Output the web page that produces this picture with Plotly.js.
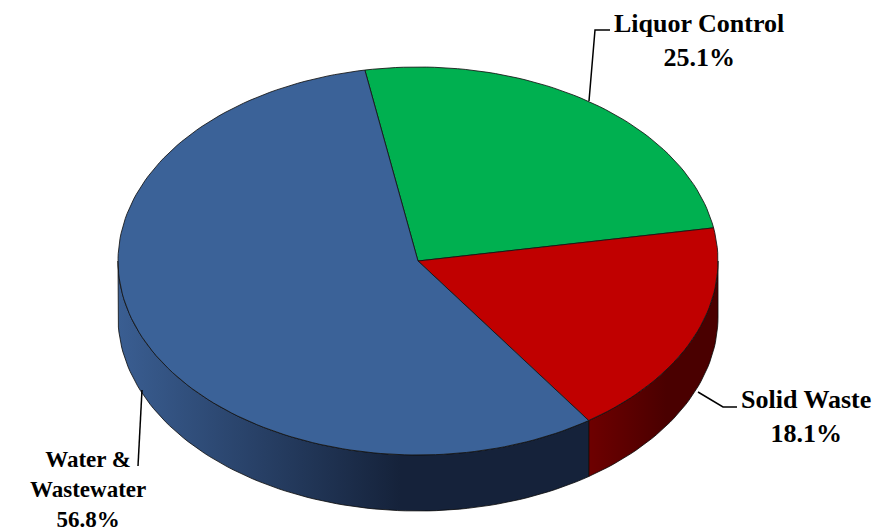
<!DOCTYPE html>
<html>
<head>
<meta charset="utf-8">
<script src="https://cdn.plot.ly/plotly-3.0.1.min.js"></script>
<style>html,body{margin:0;padding:0;background:#fff;}#chart{width:881px;height:532px;}</style>
</head>
<body>
<div id="chart"></div>
<script>
// ---- data ----
const labels = ['Liquor Control', 'Solid Waste', 'Water & Wastewater'];
const values = [25.1, 18.1, 56.8];
const labelText = ['Liquor Control<br>25.1%', 'Solid Waste<br>18.1%', 'Water &<br>Wastewater<br>56.8%'];

// ---- style / geometry ----
const topColors = ['#00b050', '#c00000', '#3b6298'];
const sideColors = [['#00803a', '#005a28'], ['#6e0000', '#4a0000'], ['#3a5e92', '#15223a']];
const W = 881, H = 532;
const cx = 418, cy = 261, rx = 300, ry = 194, depth = 56;
const startAngle = 100.2; // degrees, slices run clockwise

const total = values.reduce((a, b) => a + b, 0);
const rad = d => d * Math.PI / 180;
function px(t) { return cx + rx * Math.cos(rad(t)); }
function py(t, off) { return cy - ry * Math.sin(rad(t)) + (off || 0); }
function arc(a1, a2, off) {
  const n = Math.max(2, Math.ceil(Math.abs(a2 - a1) / 1.5));
  const xs = [], ys = [];
  for (let i = 0; i <= n; i++) {
    const t = a1 + (a2 - a1) * i / n;
    xs.push(px(t)); ys.push(py(t, off));
  }
  return [xs, ys];
}

const sideTraces = [], topTraces = [];
let a = startAngle;
values.forEach((v, i) => {
  const sweep = v / total * 360;
  const a1 = a, a2 = a - sweep; // clockwise
  const [ax, ay] = arc(a1, a2, 0);
  topTraces.push({
    type: 'scatter', mode: 'lines', fill: 'toself',
    x: [cx].concat(ax, [cx]), y: [cy].concat(ay, [cy]),
    fillcolor: topColors[i], line: {color: 'rgba(20,20,20,0.85)', width: 1},
    hoverinfo: 'skip', name: labels[i]
  });
  for (let k = -1; k <= 1; k++) {
    const lo = Math.max(a2, -180 + 360 * k), hi = Math.min(a1, 0 + 360 * k);
    if (hi - lo > 0.01) {
      const [tx, ty] = arc(hi, lo, 0);
      const [bx, by] = arc(lo, hi, depth);
      sideTraces.push({
        type: 'scatter', mode: 'lines', fill: 'toself',
        x: tx.concat(bx, [tx[0]]), y: ty.concat(by, [ty[0]]),
        fillcolor: sideColors[i][1],
        fillgradient: {type: 'horizontal', colorscale: [[0, sideColors[i][0]], [0.6, sideColors[i][1]], [1, sideColors[i][1]]]},
        line: {color: 'rgba(10,10,10,0.8)', width: 1},
        hoverinfo: 'skip', name: labels[i] + ' side'
      });
    }
  }
  a = a2;
});

const lbl = (txt, x, y, size) => ({
  text: '<b>' + txt + '</b>', x: x, y: y, xref: 'x', yref: 'y',
  xanchor: 'center', yanchor: 'middle', showarrow: false, align: 'center',
  font: {family: 'serif', size: size, color: '#000'}
});

const layout = {
  width: W, height: H,
  font: {family: 'serif', color: '#000'},
  margin: {l: 0, r: 0, t: 0, b: 0},
  paper_bgcolor: '#ffffff', plot_bgcolor: '#ffffff',
  showlegend: false,
  xaxis: {range: [0, W], visible: false, fixedrange: true},
  yaxis: {range: [H, 0], visible: false, fixedrange: true},
  annotations: [
    lbl(labelText[0], 699, 40, 26),
    lbl(labelText[1], 806, 416, 26),
    lbl(labelText[2], 88, 489, 23)
  ],
  shapes: [
    {type: 'path', xref: 'x', yref: 'y', path: 'M 589 101 L 595 30 L 610 30', line: {color: '#000', width: 1.5}},
    {type: 'path', xref: 'x', yref: 'y', path: 'M 698 392 L 723 407 L 737 407', line: {color: '#000', width: 1.5}},
    {type: 'path', xref: 'x', yref: 'y', path: 'M 142 390 L 138 466', line: {color: '#000', width: 1.5}}
  ]
};

Plotly.newPlot('chart', sideTraces.concat(topTraces), layout, {displayModeBar: false, staticPlot: true});
</script>
</body>
</html>
